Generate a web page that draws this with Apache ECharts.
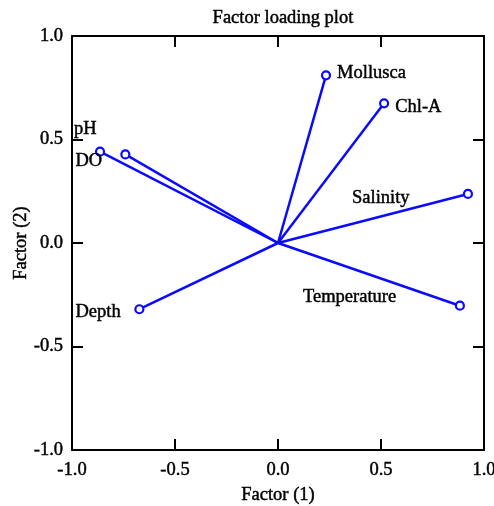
<!DOCTYPE html>
<html>
<head>
<meta charset="utf-8">
<script src="https://cdn.jsdelivr.net/npm/echarts@6/dist/echarts.min.js"></script>
<style>
html,body{margin:0;padding:0;background:#fff;}
#chart{width:494px;height:506px;}
</style>
</head>
<body>
<div id="chart"></div>
<script>
// ---- data ----
const variables = ['Mollusca', 'Chl-A', 'pH', 'DO', 'Salinity', 'Temperature', 'Depth'];
const factor1 = [0.233, 0.515, -0.864, -0.741, 0.922, 0.883, -0.673];
const factor2 = [0.810, 0.675, 0.441, 0.428, 0.237, -0.303, -0.320];
const axisMin = -1.0, axisMax = 1.0, axisStep = 0.5;
const titleText = 'Factor loading plot';
const xName = 'Factor (1)';
const yName = 'Factor (2)';

// ---- label placement (style, not data) ----
const labelOffsets = {
  'Mollusca': [6, -2],
  'Chl-A': [6, 4],
  'pH': [-31, -23],
  'DO': [-55, 7],
  'Salinity': [-121, 4],
  'Temperature': [-162, -9],
  'Depth': [-69, 3]
};

const FONT = '"Liberation Serif", "Times New Roman", serif';
const BLUE = '#0a0aff';
const FS = 18.5;
const txt = {fontFamily: FONT, fontSize: FS, color: '#000', textBorderColor: '#000', textBorderWidth: 0.45};

const chart = echarts.init(document.getElementById('chart'), null, {renderer: 'canvas'});

const lineSeries = variables.map((v, i) => ({
  type: 'line',
  name: v,
  data: [[0, 0], [factor1[i], factor2[i]]],
  symbol: 'none',
  lineStyle: {color: BLUE, width: 2.5},
  silent: true,
  animation: false,
  z: 2
}));

const pointSeries = {
  type: 'scatter',
  symbol: 'circle',
  symbolSize: 8,
  itemStyle: {color: '#ffffff', borderColor: BLUE, borderWidth: 2.2, opacity: 1},
  animation: false,
  z: 3,
  data: variables.map((v, i) => ({
    name: v,
    value: [factor1[i], factor2[i]],
    label: Object.assign({
      show: true,
      position: 'right',
      distance: 0,
      offset: labelOffsets[v],
      formatter: '{b}'
    }, txt)
  }))
};

const fmt = v => v.toFixed(1);
const axisCommon = {
  type: 'value',
  min: axisMin,
  max: axisMax,
  interval: axisStep,
  splitLine: {show: false},
  axisLine: {show: true, onZero: false, lineStyle: {color: '#000', width: 2}},
  axisTick: {show: true, inside: true, length: 11, lineStyle: {color: '#000', width: 2}}
};
const labelCommon = Object.assign({formatter: fmt}, txt);

chart.setOption({
  animation: false,
  backgroundColor: '#ffffff',
  title: {
    text: titleText,
    left: 278, top: 4,
    textAlign: 'center',
    textStyle: Object.assign({fontWeight: 'normal'}, txt)
  },
  grid: {left: 72, right: 10, top: 36, bottom: 56, containLabel: false, outerBoundsMode: 'none'},
  xAxis: [
    Object.assign({}, axisCommon, {
      position: 'bottom',
      axisLabel: Object.assign({margin: 11}, labelCommon),
      name: xName, nameLocation: 'middle', nameGap: 36, nameMoveOverlap: false,
      nameTextStyle: txt
    }),
    Object.assign({}, axisCommon, {position: 'top', axisLabel: {show: false}})
  ],
  yAxis: [
    Object.assign({}, axisCommon, {
      position: 'left',
      axisLabel: Object.assign({margin: 9}, labelCommon),
      name: yName, nameLocation: 'middle', nameGap: 41, nameMoveOverlap: false,
      nameTextStyle: txt
    }),
    Object.assign({}, axisCommon, {position: 'right', axisLabel: {show: false}})
  ],
  series: lineSeries.concat([pointSeries])
});
</script>
</body>
</html>
